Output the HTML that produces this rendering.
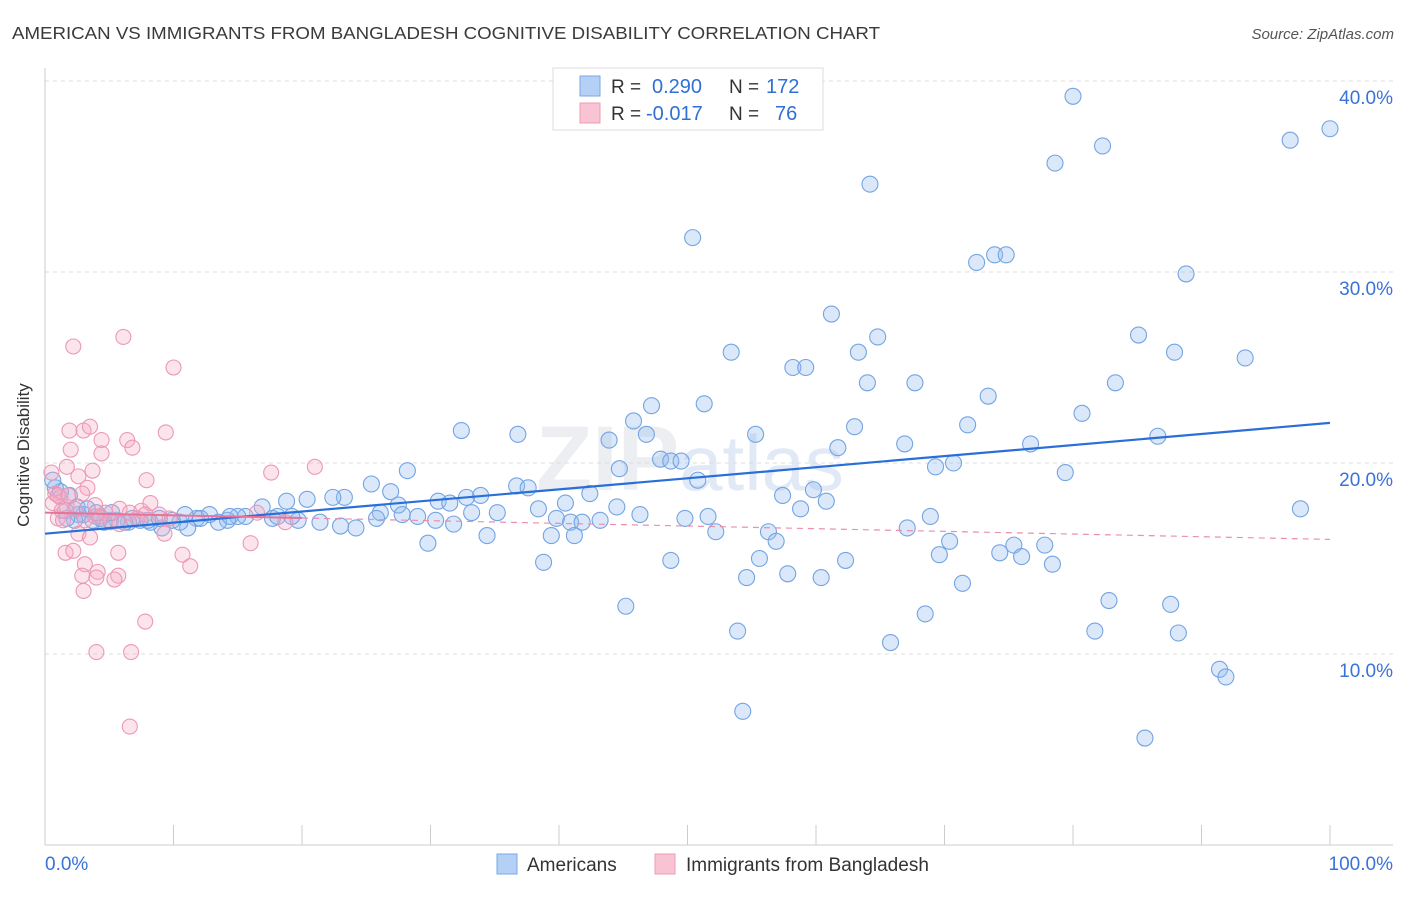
<!DOCTYPE html>
<html><head><meta charset="utf-8"><style>
body{margin:0;background:#fff;font-family:"Liberation Sans",sans-serif;}
svg text{font-family:"Liberation Sans",sans-serif;}
</style></head><body>
<svg id="chart" width="1406" height="892" xmlns="http://www.w3.org/2000/svg">
<text x="12" y="39" font-size="17.5" fill="#3a3a3a" textLength="868" lengthAdjust="spacingAndGlyphs">AMERICAN VS IMMIGRANTS FROM BANGLADESH COGNITIVE DISABILITY CORRELATION CHART</text>
<text x="1394" y="39" font-size="15" fill="#555" text-anchor="end" font-style="italic">Source: ZipAtlas.com</text>
<text x="690" y="490" font-size="92" fill="#eceef2" text-anchor="middle" font-family="Liberation Serif" font-weight="bold">ZIP<tspan font-family="Liberation Sans" font-weight="normal" font-size="78" fill="#e0e9f5">atlas</tspan></text>
<g id="grid"></g>
<g id="axes"></g>
<g id="pts"></g>
<g id="lines"></g>
<text transform="translate(29,455) rotate(-90)" font-size="17" fill="#333" text-anchor="middle">Cognitive Disability</text>
<g>
<rect x="553" y="68" width="270" height="62" fill="#fff" stroke="#ddd"/>
<rect x="580" y="76" width="20" height="20" fill="#b4d0f4" stroke="#7aa8e6"/>
<rect x="580" y="103" width="20" height="20" fill="#f8c4d4" stroke="#ee9cb6"/>
<text x="611" y="93" font-size="19" fill="#333">R =</text><text x="652" y="93" font-size="20" fill="#2f6fd6">0.290</text>
<text x="729" y="93" font-size="19" fill="#333">N =</text><text x="766" y="93" font-size="20" fill="#2f6fd6">172</text>
<text x="611" y="120" font-size="19" fill="#333">R =</text><text x="646" y="120" font-size="20" fill="#2f6fd6">-0.017</text>
<text x="729" y="120" font-size="19" fill="#333">N =</text><text x="775" y="120" font-size="20" fill="#2f6fd6">76</text>
</g>
<g>
<rect x="497" y="854" width="20" height="20" fill="#b4d0f4" stroke="#7aa8e6"/>
<text x="527" y="871" font-size="19" fill="#333">Americans</text>
<rect x="655" y="854" width="20" height="20" fill="#f8c4d4" stroke="#ee9cb6"/>
<text x="686" y="871" font-size="19" fill="#333">Immigrants from Bangladesh</text>
</g>
</svg>
<script>
const yTicks=[10,20,30,40];
const yTickLabels=["10.0%","20.0%","30.0%","40.0%"];
const xLabels=["0.0%","100.0%"];
const blueX=[80.0,100.0,96.9,82.3,78.6,64.2,50.4,72.5,73.9,74.8,88.8,61.2,64.8,85.1,53.4,63.3,87.9,93.4,58.2,59.2,64.0,67.7,83.3,73.4,47.2,51.3,80.7,45.8,63.0,32.4,36.8,46.8,55.3,71.8,66.9,86.6,76.7,61.7,47.9,48.7,49.5,43.9,69.3,70.7,28.2,44.7,79.4,50.8,25.4,36.7,37.6,26.9,23.3,20.4,22.4,18.8,57.4,59.8,32.8,33.9,42.4,30.6,31.5,40.5,60.8,44.5,27.5,38.4,58.8,16.9,97.7,26.1,27.8,29.0,30.4,33.2,35.2,39.8,40.9,46.3,51.6,68.9,49.8,43.2,41.8,31.8,25.8,23.0,24.2,21.4,19.7,19.2,17.7,18.1,15.6,15.0,14.2,13.5,12.8,11.8,11.1,10.5,9.9,9.1,8.2,7.4,6.5,5.6,5.1,4.6,4.3,3.7,3.0,2.6,2.5,1.9,1.2,0.8,8.0,6.8,6.2,52.2,67.1,41.2,39.4,34.4,29.8,56.3,56.9,70.4,74.3,75.4,76.0,77.8,69.6,55.6,62.3,78.4,48.7,38.8,54.6,57.8,60.4,71.4,45.2,82.8,87.6,68.5,53.9,81.7,88.2,65.8,91.4,91.9,54.3,85.6,0.6,1.6,3.3,4.0,2.3,1.7,5.2,8.9,12.1,14.4,10.9];
const blueY=[39.2,37.5,36.9,36.6,35.7,34.6,31.8,30.5,30.9,30.9,29.9,27.8,26.6,26.7,25.8,25.8,25.8,25.5,25.0,25.0,24.2,24.2,24.2,23.5,23.0,23.1,22.6,22.2,21.9,21.7,21.5,21.5,21.5,22.0,21.0,21.4,21.0,20.8,20.2,20.1,20.1,21.2,19.8,20.0,19.6,19.7,19.5,19.1,18.9,18.8,18.7,18.5,18.2,18.1,18.2,18.0,18.3,18.6,18.2,18.3,18.4,18.0,17.9,17.9,18.0,17.7,17.8,17.6,17.6,17.7,17.6,17.4,17.3,17.2,17.0,17.4,17.4,17.1,16.9,17.3,17.2,17.2,17.1,17.0,16.9,16.8,17.1,16.7,16.6,16.9,17.0,17.2,17.1,17.2,17.2,17.2,17.0,16.9,17.3,17.1,16.6,16.9,17.0,16.6,16.9,17.0,16.9,17.0,17.0,16.9,17.1,17.0,17.3,17.3,17.7,18.3,18.5,18.7,17.0,17.1,16.9,16.4,16.6,16.2,16.2,16.2,15.8,16.4,15.9,15.9,15.3,15.7,15.1,15.7,15.2,15.0,14.9,14.7,14.9,14.8,14.0,14.2,14.0,13.7,12.5,12.8,12.6,12.1,11.2,11.2,11.1,10.6,9.2,8.8,7.0,5.6,19.1,17.5,17.6,17.4,17.0,17.1,17.4,17.1,17.1,17.2,17.3];
const pinkX=[2.2,6.1,10.0,3.0,3.5,1.9,4.4,9.4,6.4,6.8,2.0,4.4,1.7,3.7,2.6,0.5,17.6,21.0,7.9,3.3,0.8,1.2,0.6,1.7,2.3,3.9,4.7,5.8,6.6,7.5,8.2,8.9,9.7,3.1,3.9,1.0,1.4,5.1,5.8,2.6,3.5,9.3,16.5,16.0,1.6,2.2,5.7,10.7,3.1,11.3,4.1,2.9,4.0,5.7,5.4,3.0,7.8,4.0,6.7,6.6,1.0,1.3,1.8,2.9,4.3,7.2,7.8,18.7];
const pinkY=[26.1,26.6,25.0,21.7,21.9,21.7,21.2,21.6,21.2,20.8,20.7,20.5,19.8,19.6,19.3,19.5,19.5,19.8,19.1,18.7,18.4,18.2,17.9,17.7,17.6,17.8,17.4,17.6,17.4,17.5,17.9,17.3,17.1,17.0,17.2,17.1,17.0,16.9,16.8,16.3,16.1,16.3,17.4,15.8,15.3,15.4,15.3,15.2,14.7,14.6,14.3,14.1,14.0,14.1,13.9,13.3,11.7,10.1,10.1,6.2,18.3,17.5,18.3,18.4,17.2,17.1,17.3,16.9];
const blueTrend=[16.3,22.1];
const pinkTrend=[17.4,16.0];
const NS="http://www.w3.org/2000/svg";
const X0=45,X1=1330,Y0=845,PPY=19.1;
function sx(v){return X0+(X1-X0)*v/100;}
function sy(v){return Y0-v*PPY;}
function mk(tag,attrs,parent){const e=document.createElementNS(NS,tag);for(const k in attrs)e.setAttribute(k,attrs[k]);parent.appendChild(e);return e;}
const grid=document.getElementById('grid'),axes=document.getElementById('axes'),pts=document.getElementById('pts'),lines=document.getElementById('lines');
yTicks.forEach((t,i)=>{
  const l=mk('line',{x1:X0,x2:1393,y1:sy(t),y2:sy(t),stroke:'#dcdcdc','stroke-dasharray':'4,4'},grid);
  
  
  const tx=mk('text',{x:1393,y:sy(t)+23,'font-size':19,fill:'#3a72d8','text-anchor':'end'},axes);
  tx.textContent=yTickLabels[i];
  
  
});
const ax=mk('line',{x1:X0,x2:X0,y1:68,y2:Y0,stroke:'#ccc'},axes);


const bx=mk('line',{x1:X0,x2:1393,y1:Y0,y2:Y0,stroke:'#ccc'},axes);


for(let i=0;i<=10;i++){
  const t=mk('line',{x1:sx(i*10),x2:sx(i*10),y1:825,y2:Y0,stroke:'#ccc'},axes);
  
  
}
const xl0=mk('text',{x:45,y:870,'font-size':19,fill:'#3a72d8'},axes);xl0.textContent=xLabels[0];


const xl1=mk('text',{x:1393,y:870,'font-size':19,fill:'#3a72d8','text-anchor':'end'},axes);xl1.textContent=xLabels[1];


blueX.forEach((v,i)=>{
  const c=mk('circle',{cx:sx(v),cy:sy(blueY[i]),r:8,fill:'rgba(150,190,240,0.35)',stroke:'#74a4e2','stroke-width':1.1},pts);
  
  
});
pinkX.forEach((v,i)=>{
  const c=mk('circle',{cx:sx(v),cy:sy(pinkY[i]),r:7.5,fill:'rgba(245,170,195,0.32)',stroke:'#ec98b5','stroke-width':1.1},pts);
  
  
});
const bl=mk('line',{x1:sx(0),y1:sy(blueTrend[0]),x2:sx(100),y2:sy(blueTrend[1]),stroke:'#2a6fd8','stroke-width':2.2},lines);


const pm=pinkTrend[0]+(pinkTrend[1]-pinkTrend[0])*0.2;
const ps=mk('line',{x1:sx(0),y1:sy(pinkTrend[0]),x2:sx(20),y2:sy(pm),stroke:'#e8739a','stroke-width':2},lines);


const pd=mk('line',{x1:sx(20),y1:sy(pm),x2:sx(100),y2:sy(pinkTrend[1]),stroke:'#eb8fae','stroke-width':1.2,'stroke-dasharray':'6,5'},lines);


</script>
</body></html>
